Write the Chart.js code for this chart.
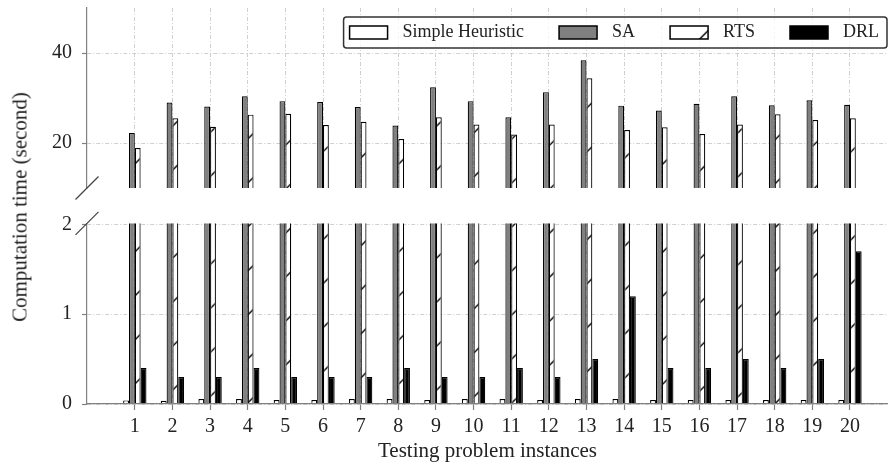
<!DOCTYPE html>
<html>
<head>
<meta charset="utf-8">
<script src="https://cdn.jsdelivr.net/npm/chart.js@4.4.1/dist/chart.umd.min.js"></script>
<style>
  html, body { margin: 0; padding: 0; background: #fff; }
  #wrap { position: relative; width: 888px; height: 463px; overflow: hidden; background: #fff; }
  #topChart { position: absolute; left: 0; top: 0; }
  #bottomChart { position: absolute; left: 0; top: 200px; }
  #ytitle {
    position: absolute; left: 20px; top: 207px;
    transform: translate(-50%, -50%) rotate(-90deg);
    font: 21px 'Liberation Serif', serif; color: #222; white-space: nowrap;
  }
</style>
</head>
<body>
<div id="wrap">
  <canvas id="topChart" width="888" height="210"></canvas>
  <canvas id="bottomChart" width="888" height="264"></canvas>
  <div id="ytitle">Computation time (second)</div>
</div>
<script>
'use strict';

const instances = [1, 2, 3, 4, 5, 6, 7, 8, 9, 10, 11, 12, 13, 14, 15, 16, 17, 18, 19, 20];
const heuristic = [0.04, 0.035, 0.055, 0.055, 0.045, 0.045, 0.055, 0.055, 0.045, 0.055,
                   0.055, 0.045, 0.055, 0.055, 0.045, 0.045, 0.045, 0.045, 0.045, 0.045];
const sa = [22.2, 29.0, 28.1, 30.4, 29.3, 29.1, 28.0, 23.9, 32.4, 29.3,
            25.7, 31.3, 38.4, 28.3, 27.2, 28.7, 30.4, 28.4, 29.5, 28.5];
const rts = [18.9, 25.5, 23.6, 26.3, 26.5, 24.0, 24.7, 20.9, 25.7, 24.1,
             21.9, 24.1, 34.4, 22.9, 23.5, 22.0, 24.1, 26.4, 25.1, 25.5];
const drl = [0.4, 0.3, 0.3, 0.4, 0.3, 0.3, 0.3, 0.4, 0.3, 0.3,
             0.4, 0.3, 0.5, 1.2, 0.4, 0.4, 0.5, 0.4, 0.5, 1.7];
const seriesNames = ['Simple Heuristic', 'SA', 'RTS', 'DRL'];
const topTicks = [20, 40];
const bottomTicks = [0, 1, 2];

const FONT = "'Liberation Serif', serif";
const GRID = '#c4c4c4';
const SPINE = '#808080';
const DASH = [4, 2, 1, 2];

function makeHatch(ctx, shift) {
  const size = 44;
  const c = document.createElement('canvas');
  c.width = size; c.height = size;
  const g = c.getContext('2d');
  g.fillStyle = '#fff';
  g.fillRect(0, 0, size, size);
  g.strokeStyle = '#000';
  g.lineWidth = 1.4;
  g.beginPath();
  g.moveTo(-4, size + 4); g.lineTo(size + 4, -4);
  g.moveTo(-4, 4); g.lineTo(4, -4);
  g.moveTo(size - 4, size + 4); g.lineTo(size + 4, size - 4);
  g.stroke();
  const p = ctx.createPattern(c, 'repeat');
  p.setTransform(new DOMMatrix().translate(shift, 0));
  return p;
}

function makeDatasets(hatch) {
  const fills = ['#fff', '#808080', hatch, '#000'];
  return [heuristic, sa, rts, drl].map((vals, i) => ({
    label: seriesNames[i],
    data: vals,
    backgroundColor: fills[i],
    borderColor: '#000',
    borderWidth: 1.2,
    categoryPercentage: 0.62,
    barPercentage: 1
  }));
}

const breakMarks = {
  id: 'breakMarks',
  afterDraw(chart, args, opts) {
    const { ctx, chartArea } = chart;
    const x = chartArea.left;
    const y = opts.edge === 'bottom' ? chartArea.bottom : chartArea.top;
    const d = 11.5;
    ctx.save();
    ctx.strokeStyle = '#444';
    ctx.lineWidth = 1.2;
    ctx.beginPath();
    ctx.moveTo(x - d, y + d);
    ctx.lineTo(x + d, y - d);
    ctx.stroke();
    ctx.restore();
  }
};

const legendBox = {
  id: 'legendBox',
  afterDraw(chart) {
    const ctx = chart.ctx;
    const items = chart.data.datasets;
    ctx.save();
    ctx.font = '18px ' + FONT;
    const widths = items.map(d => ctx.measureText(d.label).width);
    const boxW = 38, boxH = 13, gapText = 15, gapItem = 35, padL = 6, padR = 8;
    const total = padL + padR + widths.reduce((s, w) => s + boxW + gapText + w, 0) + gapItem * (items.length - 1);
    const right = chart.chartArea.right - 1, top = 17, h = 31;
    const left = right - total;
    ctx.beginPath();
    ctx.roundRect(left, top, total, h, 3);
    ctx.fillStyle = 'rgba(255,255,255,0.8)';
    ctx.fill();
    ctx.strokeStyle = '#333';
    ctx.lineWidth = 1.5;
    ctx.stroke();
    let x = left + padL;
    const cy = top + h / 2;
    items.forEach((d, i) => {
      ctx.fillStyle = d.backgroundColor;
      ctx.fillRect(x, cy - boxH / 2, boxW, boxH);
      ctx.strokeStyle = '#000';
      ctx.lineWidth = 1.5;
      ctx.strokeRect(x, cy - boxH / 2, boxW, boxH);
      x += boxW + gapText;
      ctx.fillStyle = '#222';
      ctx.textBaseline = 'middle';
      ctx.textAlign = 'left';
      ctx.fillText(d.label, x, cy);
      x += widths[i] + gapItem;
    });
    ctx.restore();
  }
};

function xScale(showLabels) {
  return {
    type: 'linear',
    offset: false,
    min: -0.27,
    max: 21.01,
    afterBuildTicks: s => { s.ticks = instances.map(v => ({ value: v })); },
    afterFit: s => {
      s.paddingLeft = 0; s.paddingRight = 0;
      s.height = showLabels ? 60 : 0;
    },
    grid: {
      offset: false, color: GRID, lineWidth: 0.8,
      drawTicks: showLabels, tickLength: 6, tickColor: SPINE, tickWidth: 1.2, tickBorderDash: []
    },
    border: { display: showLabels, color: SPINE, width: 1.2, z: 1, dash: DASH },
    ticks: { display: showLabels, padding: 5, color: '#222', font: { family: FONT, size: 20 } },
    title: {
      display: showLabels, text: 'Testing problem instances', color: '#222',
      padding: { top: 0, bottom: 0 }, font: { family: FONT, size: 21 }
    }
  };
}

function yScale(min, max, ticks) {
  return {
    min: min,
    max: max,
    afterBuildTicks: s => { s.ticks = ticks.map(v => ({ value: v })); },
    afterFit: s => { s.width = 87; s.paddingTop = 0; s.paddingBottom = 0; },
    grid: {
      color: GRID, lineWidth: 0.8,
      tickLength: 5, tickColor: SPINE, tickWidth: 1.2, tickBorderDash: []
    },
    border: { color: SPINE, width: 1.2, z: 1, dash: DASH },
    ticks: { padding: 10, color: '#222', font: { family: FONT, size: 20 } }
  };
}

const topCtx = document.getElementById('topChart');
new Chart(topCtx, {
  type: 'bar',
  data: { labels: instances, datasets: makeDatasets(makeHatch(topCtx.getContext('2d'), 34.7)) },
  options: {
    responsive: false,
    animation: false,
    layout: { padding: { left: 0, right: 0, top: 8, bottom: 22 } },
    plugins: { legend: { display: false }, tooltip: { enabled: false }, breakMarks: { edge: 'bottom' } },
    scales: { x: xScale(false), y: yScale(10, 50, topTicks) }
  },
  plugins: [breakMarks, legendBox]
});

const botCtx = document.getElementById('bottomChart');
new Chart(botCtx, {
  type: 'bar',
  data: { labels: instances, datasets: makeDatasets(makeHatch(botCtx.getContext('2d'), 10.7)) },
  options: {
    responsive: false,
    animation: false,
    layout: { padding: { left: 0, right: 0, top: 23.4, bottom: 0 } },
    plugins: { legend: { display: false }, tooltip: { enabled: false }, breakMarks: { edge: 'top' } },
    scales: { x: xScale(true), y: yScale(0, 2.01, bottomTicks) }
  },
  plugins: [breakMarks]
});
</script>
</body>
</html>
